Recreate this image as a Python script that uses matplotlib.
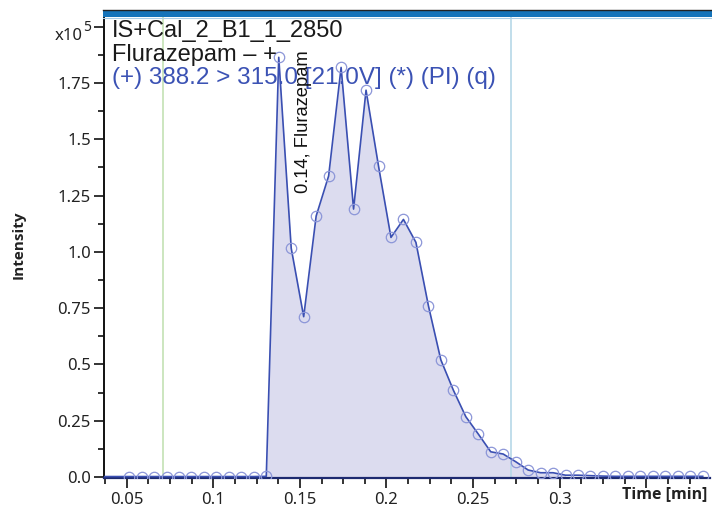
import matplotlib
matplotlib.use("Agg")
import matplotlib.pyplot as plt
from matplotlib.patches import Rectangle
from matplotlib.lines import Line2D

# ---- data ----
times = [0.0514, 0.0586, 0.0658, 0.0730, 0.0802, 0.0874, 0.0946, 0.1018, 0.1090,
         0.1162, 0.1234, 0.1306, 0.1378, 0.1450, 0.1522, 0.1594, 0.1666, 0.1738,
         0.1810, 0.1882, 0.1954, 0.2026, 0.2098, 0.2170, 0.2242, 0.2314, 0.2386,
         0.2458, 0.2530, 0.2602, 0.2674, 0.2746, 0.2818, 0.2890, 0.2962, 0.3034,
         0.3106, 0.3178, 0.3250, 0.3322, 0.3394, 0.3466, 0.3538, 0.3610, 0.3682,
         0.3754, 0.3826]
intensity = [0.002, 0.002, 0.002, 0.002, 0.002, 0.002, 0.002, 0.002, 0.002,
             0.002, 0.002, 0.003, 1.864, 1.016, 0.712, 1.159, 1.337, 1.819,
             1.190, 1.718, 1.381, 1.064, 1.144, 1.042, 0.761, 0.520, 0.386,
             0.268, 0.191, 0.112, 0.102, 0.068, 0.031, 0.019, 0.019, 0.008,
             0.008, 0.006, 0.004, 0.003, 0.003, 0.003, 0.003, 0.003, 0.003,
             0.003, 0.003]
fill_start, fill_end = 11, 35          # integrated region (indices)
marker_green = 0.0708
marker_blue = 0.2719

x_ticks = [0.05, 0.1, 0.15, 0.2, 0.25, 0.3, 0.35]
x_labels = ["0.05", "0.1", "0.15", "0.2", "0.25", "0.3", ""]
x_minor = [0.0375, 0.0625, 0.075, 0.0875, 0.1125, 0.125, 0.1375, 0.1625, 0.175,
           0.1875, 0.2125, 0.225, 0.2375, 0.2625, 0.275, 0.2875, 0.3125, 0.325,
           0.3375, 0.3625, 0.375]
y_ticks = [0.0, 0.25, 0.5, 0.75, 1.0, 1.25, 1.5, 1.75, 2.0]
y_labels = ["0.0", "0.25", "0.5", "0.75", "1.0", "1.25", "1.5", "1.75", ""]
y_minor = [0.125, 0.375, 0.625, 0.875, 1.125, 1.375, 1.625, 1.875]

title1 = "IS+Cal_2_B1_1_2850"
title2 = "Flurazepam \u2013 +"
title3 = "(+) 388.2 > 315.0 [21.0V] (*) (PI) (q)"
peak_label = "0.14, Flurazepam"

W, H = 712, 517
def fx(x): return x / W
def fy(y): return 1 - y / H

fig = plt.figure(figsize=(W / 100, H / 100), dpi=100)
ax = fig.add_axes([fx(104), fy(478), fx(710) - fx(104), fy(17) - fy(478)])

line_col = "#3a4fb2"
ax.fill_between(times[fill_start:fill_end + 1], intensity[fill_start:fill_end + 1], 0,
                color="#dcdcef", lw=0, zorder=1)
ax.axvline(marker_green, color="#c4e2b4", lw=1.2, zorder=1.5)
ax.axvline(marker_blue, color="#b6d8e8", lw=1.2, zorder=1.5)
ax.plot([0.0369] + times, [intensity[0]] + intensity, color=line_col, lw=1.2, zorder=3)
ax.plot(times, intensity, ls="none", marker="o", ms=7.5, mfc="none",
        mec="#8c96d8", mew=0.9, zorder=4)

ax.set_xlim(0.0369, 0.3868)
ax.set_ylim(-0.0044, 2.043)

ax.set_xticks(x_ticks)
ax.set_xticklabels(x_labels)
ax.set_xticks(x_minor, minor=True)
ax.set_yticks(y_ticks)
ax.set_yticklabels(y_labels)
ax.set_yticks(y_minor, minor=True)

for lab in ax.get_xticklabels() + ax.get_yticklabels():
    lab.set_fontfamily(["Noto Sans", "DejaVu Sans"])
    lab.set_fontsize(12)
    lab.set_color("#222222")
ax.tick_params(axis="both", which="major", direction="out", length=7.5, width=1.2,
               color="#111111", pad=2)
ax.tick_params(axis="both", which="minor", direction="out", length=4.5, width=1.2,
               color="#111111")
ax.tick_params(axis="x", which="major", length=7, pad=3)

for s in ["top", "right"]:
    ax.spines[s].set_visible(False)
ax.spines["left"].set_linewidth(1.4)
ax.spines["left"].set_color("#111111")
ax.spines["bottom"].set_linewidth(1.6)
ax.spines["bottom"].set_color("#1d2a70")

# top header bar
fig.add_artist(Rectangle((fx(103), fy(17)), fx(712) - fx(103), fy(10.5) - fy(17),
                         transform=fig.transFigure, color="#1473b9", lw=0, zorder=5))
fig.add_artist(Line2D([fx(103), fx(712)], [fy(10), fy(10)], transform=fig.transFigure,
                      color="#222222", lw=1.0, zorder=6))
fig.add_artist(Line2D([fx(103), fx(712)], [fy(17.5), fy(17.5)], transform=fig.transFigure,
                      color="#a9cde6", lw=0.8, zorder=6))

tfont = ["Liberation Sans", "DejaVu Sans"]
fig.text(fx(112), fy(37), title1, family=tfont, size=17, color="#1a1a1a", va="baseline")
fig.text(fx(112), fy(60.5), title2, family=tfont, size=17, color="#1a1a1a", va="baseline")
fig.text(fx(112), fy(84), title3, family=tfont, size=17.5, color="#3b52b4", va="baseline")

fig.text(fx(304), fy(193), peak_label, family=tfont, size=13.2, color="#111111",
         rotation=90, ha="center", va="bottom")

# exponent label
fig.text(fx(83), fy(40), "x10", family=["Noto Sans", "DejaVu Sans"], size=12,
         color="#222222", ha="right", va="baseline")
fig.text(fx(83.5), fy(31), "5", family=["Noto Sans", "DejaVu Sans"], size=10,
         color="#222222", ha="left", va="baseline")

bfont = ["Open Sans", "DejaVu Sans"]
fig.text(fx(19), fy(245), "Intensity", family=bfont, size=11,
         weight="bold", color="#222222", rotation=90, ha="center", va="center")
fig.text(fx(707), fy(494), "Time [min]", family=bfont, size=11.5,
         weight="bold", color="#222222", ha="right", va="center")

fig.savefig("out.png", dpi=100)
